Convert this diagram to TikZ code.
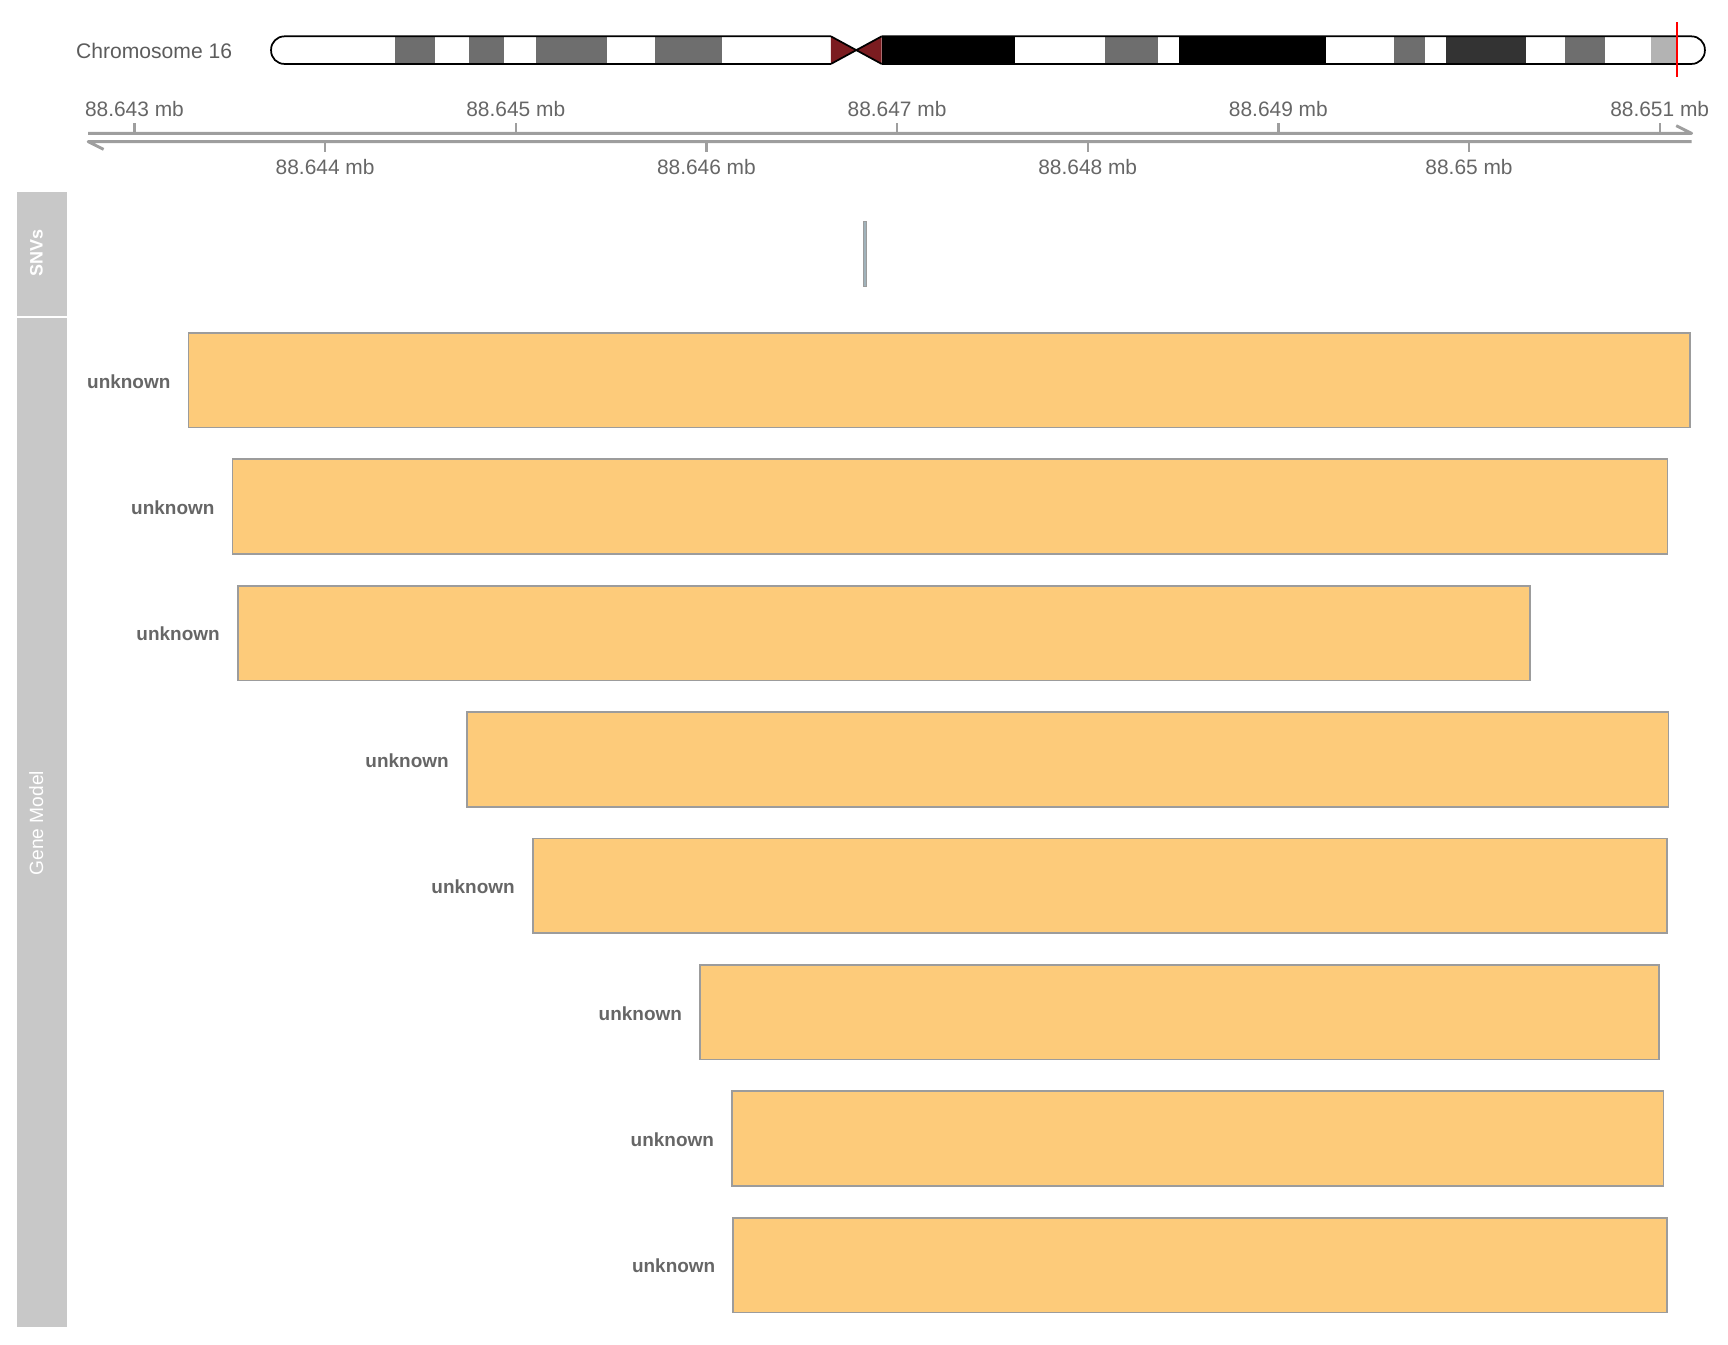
\documentclass[tikz,border=0pt]{standalone}
\usepackage{fontspec}
\setmainfont{Liberation Sans}
\usetikzlibrary{positioning}

\definecolor{bandgray}{HTML}{6E6E6E}
\definecolor{banddark}{HTML}{333333}
\definecolor{bandlight}{HTML}{B3B3B3}
\definecolor{cenred}{HTML}{7B1C20}
\definecolor{axisgray}{HTML}{9E9E9E}
\definecolor{txtgray}{HTML}{666666}
\definecolor{stripgray}{HTML}{C8C8C8}
\definecolor{genefill}{HTML}{FDCB7A}
\definecolor{geneline}{HTML}{9C9C9C}
\definecolor{snvfill}{HTML}{A0B2BA}

\tikzset{
  chrom/.style={draw=black, line width=0.9pt},
  axisline/.style={draw=axisgray, line width=1.5pt, line join=round},
  tickmark/.style={draw=axisgray, line width=1.2pt},
  ticklabel/.style={text=txtgray, inner sep=0pt, font=\fontsize{10.8}{12}\selectfont},
  strip/.style={fill=stripgray},
  striplabel/.style={text=white, rotate=90, inner sep=0pt, font=\fontsize{9.9}{12}\selectfont},
  snv/.style={fill=snvfill, draw=geneline, line width=0.4pt},
  gene/.style={fill=genefill, draw=geneline, line width=0.9pt},
  genelabel/.style={text=txtgray, anchor=east, inner sep=0pt, font=\fontsize{9.8}{12}\selectfont\bfseries},
}

\begin{document}
\begin{tikzpicture}[x=0.02cm, y=-0.02cm]
  \useasboundingbox (0,0) rectangle (1568,1220);

  % ideogram
  \node[text=txtgray!90!black, anchor=east, inner sep=0pt, font=\fontsize{10.9}{12}\selectfont] (chrname) at (211,46) {Chromosome 16};
  \begin{scope}
    \clip[rounded corners=0.24cm] (246,33) rectangle (785,58);
    \fill[bandgray] (358,33) rectangle (395,58);
    \fill[bandgray] (426,33) rectangle (457,58);
    \fill[bandgray] (486,33) rectangle (551,58);
    \fill[bandgray] (594,33) rectangle (655,58);
  \end{scope}
  \begin{scope}
    \clip[rounded corners=0.24cm] (770,33) rectangle (1547,58);
    \fill[black] (800,33) rectangle (921,58);
    \fill[bandgray] (1003,33) rectangle (1051,58);
    \fill[black] (1070,33) rectangle (1203,58);
    \fill[bandgray] (1265,33) rectangle (1293,58);
    \fill[banddark] (1312,33) rectangle (1385,58);
    \fill[bandgray] (1420,33) rectangle (1456,58);
    \fill[bandlight] (1498,33) rectangle (1522,58);
  \end{scope}
  \fill[cenred] (754,33) -- (777,45.5) -- (754,58) -- cycle;
  \fill[cenred] (800,33) -- (777,45.5) -- (800,58) -- cycle;
  \draw[chrom, rounded corners=0.24cm] (754,33) -- (246,33) -- (246,58) -- (754,58);
  \draw[chrom, rounded corners=0.24cm] (800,33) -- (1547,33) -- (1547,58) -- (800,58);
  \draw[chrom] (754,33) -- (800,58) (754,58) -- (800,33);
  \draw[red, line width=1.1pt] (1522,20) -- (1522,70);

  % genome axis
  \draw[axisline] (80,121) -- (1535,121) -- (1521,114);
  \draw[axisline] (1535,128.5) -- (80,128.5) -- (94,135.5);
  \draw[tickmark] (122,121) -- (122,112);
  \draw[tickmark] (468,121) -- (468,112);
  \draw[tickmark] (814,121) -- (814,112);
  \draw[tickmark] (1160,121) -- (1160,112);
  \draw[tickmark] (1506,121) -- (1506,112);
  \draw[tickmark] (295,128.5) -- (295,138);
  \draw[tickmark] (641,128.5) -- (641,138);
  \draw[tickmark] (987,128.5) -- (987,138);
  \draw[tickmark] (1333,128.5) -- (1333,138);
  \node[ticklabel] (t643) at (122,99) {88.643 mb};
  \node[ticklabel] (t645) at (468,99) {88.645 mb};
  \node[ticklabel] (t647) at (814,99) {88.647 mb};
  \node[ticklabel] (t649) at (1160,99) {88.649 mb};
  \node[ticklabel] (t651) at (1506,99) {88.651 mb};
  \node[ticklabel] (t644) at (295,152) {88.644 mb};
  \node[ticklabel] (t646) at (641,152) {88.646 mb};
  \node[ticklabel] (t648) at (987,152) {88.648 mb};
  \node[ticklabel] (t650) at (1333,152) {88.65 mb};

  % track titles
  \fill[strip] (15,174) rectangle (60.5,286.5);
  \fill[strip] (15,288.6) rectangle (60.5,1204);
  \node[striplabel, font=\fontsize{9.3}{12}\selectfont\bfseries] (snvtitle) at (33,230) {SNVs};
  \node[striplabel] (genetitle) at (33,747) {Gene Model};

  % SNVs
  \draw[snv] (783,201) rectangle (786.5,259.5);

  % gene model
  \draw[gene] (171,302) rectangle (1533.6,388);
  \draw[gene] (211,416.7) rectangle (1513,502.7);
  \draw[gene] (215.7,531.4) rectangle (1388.4,617.4);
  \draw[gene] (423.5,646.1) rectangle (1514,732.1);
  \draw[gene] (483.4,760.8) rectangle (1512.4,846.8);
  \draw[gene] (635.2,875.5) rectangle (1505.2,961.5);
  \draw[gene] (664.2,990.2) rectangle (1509.4,1076.2);
  \draw[gene] (665.4,1104.9) rectangle (1512.4,1190.9);
  \node[genelabel] (lab1) at (155,346) {unknown};
  \node[genelabel] (lab2) at (195,460.7) {unknown};
  \node[genelabel] (lab3) at (199.7,575.4) {unknown};
  \node[genelabel] (lab4) at (407.5,690.1) {unknown};
  \node[genelabel] (lab5) at (467.4,804.8) {unknown};
  \node[genelabel] (lab6) at (619.2,919.5) {unknown};
  \node[genelabel] (lab7) at (648.2,1034.2) {unknown};
  \node[genelabel] (lab8) at (649.4,1148.9) {unknown};
\end{tikzpicture}
\end{document}
